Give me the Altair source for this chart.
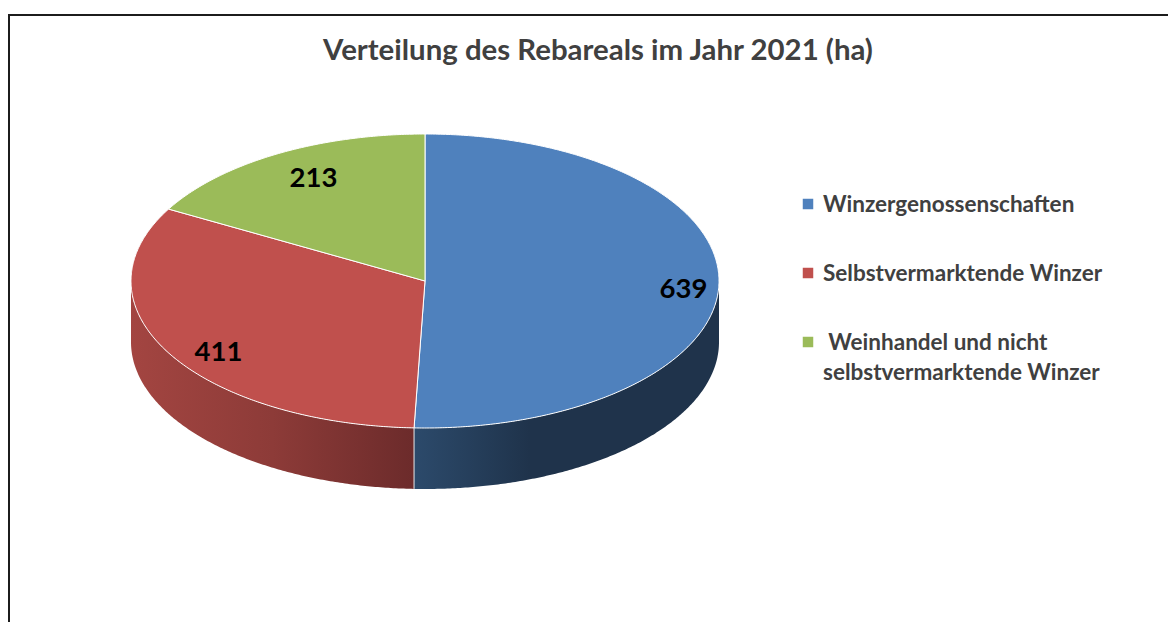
import math
import altair as alt
import pandas as pd

# ---- chart values ----
categories = [
    "Winzergenossenschaften",
    "Selbstvermarktende Winzer",
    "\u200b\u00a0Weinhandel und nicht\nselbstvermarktende Winzer",
]
values = [639, 411, 213]
value_labels = ["639", "411", "213"]
colors = ["#4f81bd", "#c0504d", "#9bbb59"]
title_text = "Verteilung des Rebareals im Jahr 2021 (ha)"

# ---- layout (chart pixels) ----
W, H = 1160, 614
CX, CY, RX, RY, DEPTH = 417.0, 273.0, 294.0, 147.0, 61.0
label_x = [675.5, 210.5, 305.5]
label_y = [282, 345, 171]
legend_sym_x = [800, 800, 800]
legend_sym_y = [196, 265, 334]
legend_text_x = [815, 815, 815]
FONT = "Lato"
TEXT = "#404040"


def pt(deg, dy=0.0):
    a = math.radians(deg)
    return [CX + RX * math.sin(a), CY - RY * math.cos(a) + dy]


def arc(a, b, dy=0.0):
    n = max(2, int(abs(b - a)) * 2)
    return [pt(a + (b - a) * i / n, dy) for i in range(n + 1)]


def polygon(name, ring):
    ring = ring + [ring[0]]
    return {"type": "Feature", "properties": {"name": name},
            "geometry": {"type": "Polygon", "coordinates": [ring]}}


total = sum(values)
edges = [0.0]
for v in values:
    edges.append(edges[-1] + 360.0 * v / total)

tops = [polygon(c, [[CX, CY]] + arc(edges[i], edges[i + 1]))
        for i, c in enumerate(categories)]


def wall(name, a, b):
    return polygon(name, arc(a, b) + arc(b, a, DEPTH))


def shape(features, **mark):
    return alt.Chart(alt.Data(values=features)).mark_geoshape(**mark).project(
        type="identity", scale=1, translate=[0, 0])


def grad(stops):
    return alt.Gradient(gradient="linear", x1=0, x2=1, y1=0, y2=0,
                        stops=[alt.GradientStop(offset=o, color=c) for o, c in stops])


color_scale = alt.Scale(domain=categories, range=colors)

wall_blue = shape([wall("b", 90, edges[1])], strokeWidth=0,
                  fill=grad([(0, "#2c4a6b"), (0.38, "#1f334b"), (1, "#1f334b")]))
wall_red = shape([wall("r", edges[1], 270)], strokeWidth=0,
                 fill=grad([(0, "#a34541"), (0.5, "#8d3b38"), (1, "#6c2b2b")]))
seam = shape([{"type": "Feature", "properties": {"name": "s"},
               "geometry": {"type": "LineString",
                            "coordinates": [pt(edges[1]), pt(edges[1], DEPTH)]}}],
             filled=False, stroke="#e8e8e8", strokeWidth=1)

top = shape(tops, stroke="#ffffff", strokeWidth=1).encode(
    color=alt.Color("properties.name:N", scale=color_scale, legend=None)
)

frame_df = pd.DataFrame({"a": [0]})
frame_left = alt.Chart(frame_df).mark_rule(color="#1c1c1c", strokeWidth=2).encode(
    x=alt.value(1), y=alt.value(6), y2=alt.value(H))
frame_top = alt.Chart(frame_df).mark_rule(color="#1c1c1c", strokeWidth=2).encode(
    x=alt.value(0), x2=alt.value(W), y=alt.value(7))

labels = alt.Chart(pd.DataFrame({"t": value_labels, "x": label_x, "y": label_y})).mark_text(
    font=FONT, fontWeight="bold", fontSize=27.5, color="#000000",
    align="center", baseline="middle",
).encode(
    x=alt.X("x:Q", scale=None, axis=None),
    y=alt.Y("y:Q", scale=None, axis=None),
    text="t:N",
)

legend_df = pd.DataFrame({"c": categories, "sx": legend_sym_x, "sy": legend_sym_y,
                          "tx": legend_text_x})
legend_sym = alt.Chart(legend_df).mark_square(size=110, opacity=1, strokeWidth=0).encode(
    x=alt.X("sx:Q", scale=None, axis=None),
    y=alt.Y("sy:Q", scale=None, axis=None),
    color=alt.Color("c:N", scale=color_scale, legend=None),
)
legend_txt = alt.Chart(legend_df).transform_calculate(
    lines="split(datum.c, '\\n')"
).mark_text(
    font=FONT, fontWeight="bold", fontSize=22.5, color=TEXT,
    align="left", baseline="top", lineHeight=30, dy=-10,
).encode(
    x=alt.X("tx:Q", scale=None, axis=None),
    y=alt.Y("sy:Q", scale=None, axis=None),
    text="lines:N",
)

chart = alt.layer(frame_left, frame_top, wall_blue, wall_red, seam, top, labels,
                  legend_sym, legend_txt).properties(
    width=W, height=H, padding=0,
    autosize=alt.AutoSizeParams(type="none"),
    background="#ffffff",
    title=alt.TitleParams(
        title_text, anchor="middle", frame="group", offset=-58, dx=10,
        font=FONT, fontWeight="bold", fontSize=29.4, color=TEXT,
    ),
).configure_view(stroke=None)

chart.save("out.html", embed_options={"renderer": "svg", "actions": False})
